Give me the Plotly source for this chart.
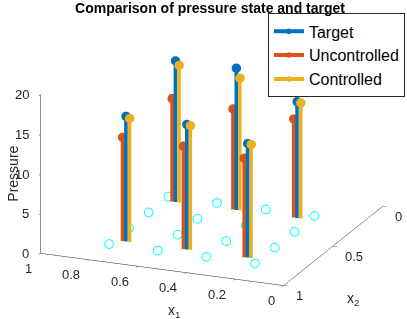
import plotly.graph_objects as go
import numpy as np

# ---- data ----
stem_x1 = [0.75, 0.75, 0.5, 0.5, 0.25, 0.25]
stem_x2 = [0.75, 0.25, 0.75, 0.25, 0.75, 0.25]
target = [15.8, 17.8, 15.8, 17.9, 14.4, 14.7]
uncontrolled = [13.1, 13.0, 13.0, 12.7, 12.5, 12.45]
controlled = [15.6, 17.3, 15.7, 16.7, 14.35, 14.6]
grid_vals = [0.2, 0.4, 0.6, 0.8]
x1_ticks = [0, 0.2, 0.4, 0.6, 0.8, 1]
x1_labels = ["0", "0.2", "0.4", "0.6", "0.8", "1"]
x2_ticks = [0, 0.5, 1]
x2_labels = ["0", "0.5", "1"]
z_ticks = [0, 5, 10, 15, 20]
z_labels = ["0", "5", "10", "15", "20"]

series = [
    ("Target", target, "#0072BD", 0.0),
    ("Uncontrolled", uncontrolled, "#D95319", 0.014),
    ("Controlled", controlled, "#EDB120", -0.015),
]

fig = go.Figure()

gx1, gx2 = [], []
for a in grid_vals:
    for b in grid_vals:
        gx1.append(a)
        gx2.append(b)
fig.add_trace(go.Scatter3d(
    x=gx1, y=gx2, z=[0] * len(gx1), mode="markers",
    marker=dict(symbol="circle-open", size=5.5, color="#00FFFF"),
    showlegend=False, hoverinfo="skip"))

for name, vals, col, off in series:
    lx, ly, lz = [], [], []
    mx, my, mz = [], [], []
    for a, b, v in zip(stem_x1, stem_x2, vals):
        lx += [a + off, a + off, None]
        ly += [b, b, None]
        lz += [0, v, None]
        mx += [a + off, None]
        my += [b, None]
        mz += [v, None]
    fig.add_trace(go.Scatter3d(
        x=lx, y=ly, z=lz, mode="lines",
        line=dict(color=col, width=7),
        showlegend=False, legendgroup=name, hoverinfo="skip"))
    fig.add_trace(go.Scatter3d(
        x=mx, y=my, z=mz, mode="lines+markers", name=name,
        line=dict(color=col, width=4),
        marker=dict(color=col, size=5.5, symbol="circle"),
        legendgroup=name))

axcommon = dict(
    showbackground=False, showgrid=False, zeroline=False,
    showline=True, linecolor="#262626", linewidth=1,
    ticks="outside", ticklen=4, tickcolor="#262626",
    showticklabels=False, title=dict(text=""),
    showspikes=False,
)

tf = dict(family="Liberation Sans", size=13, color="#262626")
lf = dict(family="Liberation Sans", size=14, color="#262626")
ann = []
for v, t in zip(x1_ticks, x1_labels):
    ann.append(dict(x=v, y=1, z=0, text=t, showarrow=False, xanchor="right",
                    yanchor="middle", xshift=-7, yshift=-15, font=tf))
for v, t in zip(x2_ticks, x2_labels):
    ann.append(dict(x=0, y=v, z=0, text=t, showarrow=False, xanchor="left",
                    yanchor="middle", xshift=10, yshift=-10, font=tf))
for v, t in zip(z_ticks, z_labels):
    ann.append(dict(x=1, y=1, z=v, text=t, showarrow=False, xanchor="right",
                    yanchor="middle", xshift=-10, yshift=0, font=tf))
ann.append(dict(x=0.5, y=1, z=0, text="x<sub>1</sub>", showarrow=False,
                xanchor="center", yanchor="middle", xshift=12, yshift=-41, font=lf))
ann.append(dict(x=0, y=0.5, z=0, text="x<sub>2</sub>", showarrow=False,
                xanchor="center", yanchor="middle", xshift=20, yshift=-53, font=lf))
ann.append(dict(x=1, y=1, z=10, text="Pressure", showarrow=False, textangle=-90,
                xanchor="center", yanchor="middle", xshift=-28, yshift=0, font=lf))

el = np.deg2rad(19.0)
hx, hy = -0.377, 0.926
r = 3.0
eye = dict(x=r * np.cos(el) * hx, y=r * np.cos(el) * hy, z=r * np.sin(el))

fig.update_layout(
    width=407, height=319,
    margin=dict(l=0, r=0, t=0, b=0),
    paper_bgcolor="white",
    title=dict(text="<b>Comparison of pressure state and target</b>",
               x=0.516, xanchor="center", y=0.99, yanchor="top",
               font=dict(family="Liberation Sans", size=14, color="black")),
    scene=dict(
        domain=dict(x=[0.04, 1.0], y=[0.056, 1.0]),
        xaxis=dict(axcommon, range=[0, 1], tickvals=x1_ticks),
        yaxis=dict(axcommon, range=[0, 1], tickvals=x2_ticks),
        zaxis=dict(axcommon, range=[0, 20], tickvals=z_ticks),
        aspectmode="manual", aspectratio=dict(x=1.745, y=1.745, z=1.115),
        camera=dict(eye=eye, up=dict(x=0, y=0, z=1), center=dict(x=0, y=0, z=0),
                    projection=dict(type="orthographic")),
        annotations=ann,
    ),
    legend=dict(x=0.995, xanchor="right", y=0.958, yanchor="top",
                bgcolor="white", bordercolor="#262626", borderwidth=1,
                font=dict(family="Liberation Sans", size=16, color="black"),
                tracegroupgap=0),
)

fig.write_html("out.html", config={"displayModeBar": False},
               post_script="document.body.style.margin='0px';")
